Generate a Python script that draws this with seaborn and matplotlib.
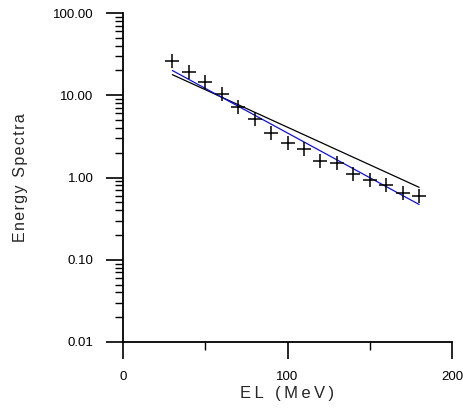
import matplotlib
matplotlib.use("Agg")
import matplotlib.pyplot as plt
import seaborn as sns
import numpy as np
import pandas as pd
from matplotlib.ticker import FixedLocator, FixedFormatter, LogLocator, NullFormatter

# data
el_mev = [30, 40, 50, 60, 70, 80, 90, 100, 110, 120, 130, 140, 150, 160, 170, 180]
spectra = [26.0, 19.4, 14.6, 10.5, 7.1, 5.2, 3.5, 2.65, 2.2, 1.6, 1.5, 1.1, 0.94, 0.82, 0.65, 0.6]
fit_x = [30, 180]
fit_black = [17.8, 0.76]
fit_blue = [20.0, 0.47]
x_ticks = [0, 100, 200]
x_tick_labels = ["0", "100", "200"]
y_ticks = [0.01, 0.1, 1, 10, 100]
y_tick_labels = ["0.01", "0.10", "1.00", "10.00", "100.00"]

sns.set_style("white")
plt.rcParams["font.family"] = ["Liberation Sans", "DejaVu Sans"]

fig = plt.figure(figsize=(4.63, 4.12), dpi=100)
ax = fig.add_axes([123/463, 1-342/412, 329/463, 329/412])

df_pts = pd.DataFrame({"x": el_mev, "y": spectra})
df_black = pd.DataFrame({"x": fit_x, "y": fit_black})
df_blue = pd.DataFrame({"x": fit_x, "y": fit_blue})

sns.lineplot(data=df_black, x="x", y="y", ax=ax, color="black", lw=0.9)
sns.lineplot(data=df_blue, x="x", y="y", ax=ax, color="#1010e0", lw=0.9)
sns.scatterplot(data=df_pts, x="x", y="y", ax=ax, marker="+", s=100,
                color="black", linewidth=1.1, zorder=5)

ax.set_yscale("log")
ax.set_xlim(0, 200)
ax.set_ylim(0.01, 100)

for s in ["top", "right"]:
    ax.spines[s].set_visible(False)
for s in ["left", "bottom"]:
    ax.spines[s].set_linewidth(1.3)
    ax.spines[s].set_color("black")

ax.xaxis.set_major_locator(FixedLocator(x_ticks))
ax.xaxis.set_major_formatter(FixedFormatter(x_tick_labels))
ax.xaxis.set_minor_locator(FixedLocator([50, 150]))
ax.yaxis.set_major_locator(FixedLocator(y_ticks))
ax.yaxis.set_major_formatter(FixedFormatter(y_tick_labels))
ax.yaxis.set_minor_locator(LogLocator(base=10, subs=np.arange(2, 10)))
ax.yaxis.set_minor_formatter(NullFormatter())

ax.tick_params(axis="both", which="major", direction="out", length=12.2, width=1.2,
               colors="black", labelsize=9.5, bottom=True, left=True)
ax.tick_params(axis="both", which="minor", direction="out", length=6.0, width=1.0,
               colors="black", bottom=True, left=True)
ax.tick_params(axis="x", which="major", pad=9)
ax.tick_params(axis="y", which="major", pad=9)

ax.set_xlabel("E\u2009L\u2009 \u2009(\u2009M\u2009e\u2009V\u2009)", fontsize=12, labelpad=2)
ax.set_ylabel("E\u200an\u200ae\u200ar\u200ag\u200ay\u2009 S\u200ap\u200ae\u200ac\u200at\u200ar\u200aa",
              fontsize=11.5, labelpad=18)

fig.savefig("out.png", dpi=100)
